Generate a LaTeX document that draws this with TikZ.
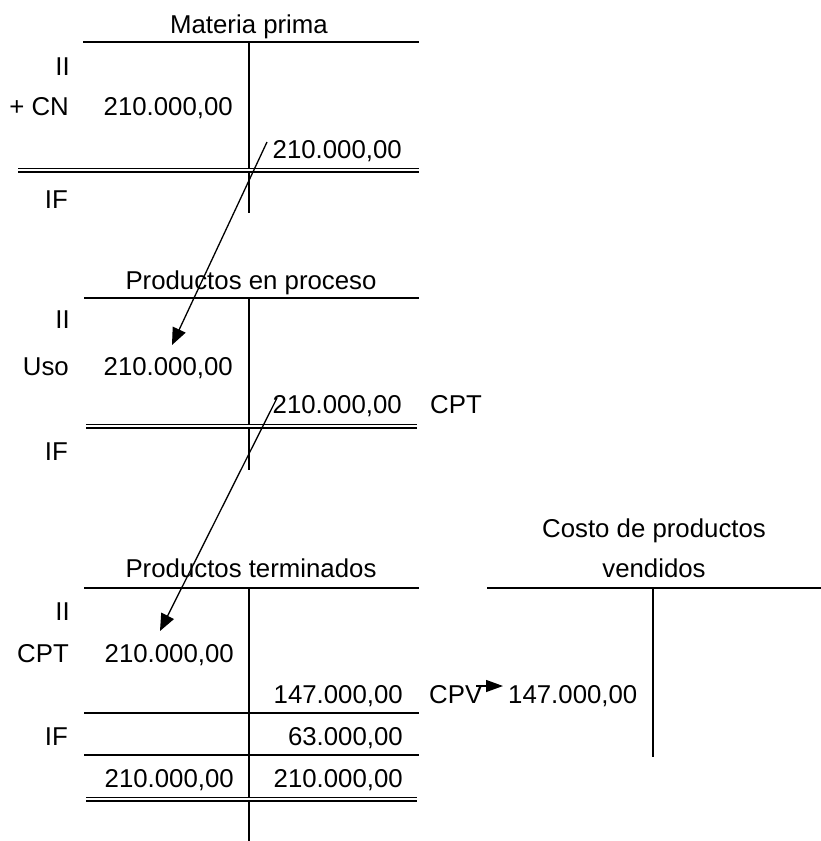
\documentclass[tikz,border=0pt]{standalone}
\usepackage{fontspec}
\setmainfont{Liberation Sans}
\usetikzlibrary{arrows.meta}
\begin{document}
\begin{tikzpicture}[x=1pt,y=-1pt,
  txt/.style={inner sep=0pt, font=\fontsize{25.8}{40}\selectfont},
  re/.style={txt, anchor=base east},
  le/.style={txt, anchor=base west},
  ce/.style={txt, anchor=base},
  hline/.style={line width=2pt},
  vline/.style={line width=2.6pt},
  dline/.style={double, double distance=2.2pt, line width=1.4pt},
  flow/.style={line width=1.3pt, -{Triangle[length=17pt,width=14pt]}},
  small/.style={line width=1.3pt, -{Triangle[length=17pt,width=12pt]}}
]
\useasboundingbox (0,0) rectangle (821,841);

% ---------- Materia prima ----------
\draw[vline] (249,43) -- (249,213);
\draw[hline] (83,42) -- (419,42);
\draw[dline] (18,170) -- (419,170);
\node[ce] (mpT) at (249,33) {Materia prima};
\node[re] (mpII) at (70,75) {II};
\node[re] (mpCN) at (69,115) {+ CN};
\node[re] (mpD) at (233,115) {210.000,00};
\node[re] (mpC) at (402,158) {210.000,00};
\node[re] (mpIF) at (68,208) {IF};

% ---------- Productos en proceso ----------
\draw[vline] (249,299) -- (249,470);
\draw[hline] (84,298) -- (419,298);
\draw[dline] (86,426) -- (417,426);
\node[ce] (ppT) at (251,289) {Productos en proceso};
\node[re] (ppII) at (70,328) {II};
\node[re] (ppUso) at (69,375) {Uso};
\node[re] (ppD) at (233,375) {210.000,00};
\node[re] (ppC) at (402,413) {210.000,00};
\node[le] (ppCPT) at (430,413) {CPT};
\node[re] (ppIF) at (68,460) {IF};

% ---------- Productos terminados ----------
\draw[vline] (249,589) -- (249,841);
\draw[hline] (84,588) -- (419,588);
\draw[hline] (84,713) -- (419,713);
\draw[hline] (84,755) -- (419,755);
\draw[dline] (86,799) -- (417,799);
\node[ce] (ptT) at (251,577) {Productos terminados};
\node[re] (ptII) at (70,620) {II};
\node[re] (ptCPT) at (69,662) {CPT};
\node[re] (ptD) at (234,662) {210.000,00};
\node[re] (ptC) at (403,703) {147.000,00};
\node[le] (ptCPV) at (429,703) {CPV};
\node[re] (ptIF) at (68,745) {IF};
\node[re] (ptC2) at (403,745) {63.000,00};
\node[re] (ptSD) at (234,787) {210.000,00};
\node[re] (ptSC) at (403,787) {210.000,00};

% ---------- Costo de productos vendidos ----------
\draw[vline] (653,589) -- (653,757);
\draw[hline] (487,588) -- (821,588);
\node[ce] (cvT1) at (654,537) {Costo de productos};
\node[ce] (cvT2) at (654,577) {vendidos};
\node[le] (cvD) at (508,703) {147.000,00};

% ---------- flows ----------
\coordinate (a1s) at (267,142);
\coordinate (a1e) at (172,345);
\coordinate (a2s) at (277,398);
\coordinate (a2e) at (160,631);
\coordinate (a3s) at (476,686);
\coordinate (a3e) at (503,686);
\draw[flow] (a1s) -- (a1e);
\draw[flow] (a2s) -- (a2e);
\draw[small] (a3s) -- (a3e);
\end{tikzpicture}
\end{document}
